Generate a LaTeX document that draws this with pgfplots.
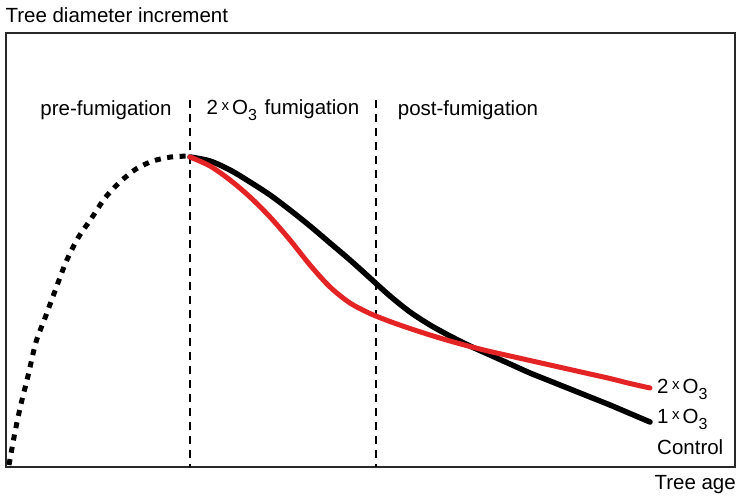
\documentclass[border=0pt]{standalone}
\usepackage{fontspec}
\setmainfont{Liberation Sans}
\usepackage{pgfplots}
\pgfplotsset{compat=1.18}
\definecolor{myred}{RGB}{228,36,36}
\definecolor{boxgray}{RGB}{40,40,40}
\newcommand{\tx}{\hspace{3.5pt}\raisebox{3.5pt}{\fontsize{15}{16}\selectfont x}\hspace{3pt}}
\newcommand{\sub}[1]{\raisebox{-6pt}{\fontsize{16}{18}\selectfont #1}}
\begin{document}
\begin{tikzpicture}[font=\fontsize{20.5}{24}\selectfont]
\path[use as bounding box] (0pt,0pt) rectangle (738pt,496pt);
\begin{axis}[
  at={(6pt,29pt)}, anchor=south west,
  scale only axis, width=729pt, height=434pt,
  xmin=6, xmax=735, ymin=29, ymax=463,
  xtick=\empty, ytick=\empty,
  axis line style={line width=2pt, boxgray},
  clip=false,
]
% vertical phase separators
\addplot[black, line width=2pt, dash pattern=on 8pt off 6pt] coordinates {(190,396) (190,29)};
\addplot[black, line width=2pt, dash pattern=on 8pt off 6pt] coordinates {(376,396) (376,29)};
% control (1 x O3)
\addplot[black, line width=5.5pt, smooth, line cap=round] coordinates {
(190,339) (210,335) (230,326) (250,314) (270,301) (290,286) (310,270) (330,253)
(350,236) (370,218) (390,200) (410,184) (430,171) (450,160) (470,150) (490,141)
(510,132) (530,123) (550,115) (570,107) (590,99) (610,91) (630,82.5) (650,74)};
% 2 x O3
\addplot[myred, line width=5pt, smooth, line cap=round] coordinates {
(190,339) (210,330) (230,316) (250,299) (270,279) (290,256) (310,231) (330,209)
(350,193) (370,182.5) (390,174.5) (410,167.5) (430,161) (450,155) (470,149.5) (490,144.5)
(510,140) (530,135.5) (550,131) (570,126.5) (590,122) (610,117.5) (630,112.5) (650,108)};
% pre-fumigation (dashed)
\addplot[black, line width=5pt, smooth, dash pattern=on 6pt off 6.5pt] coordinates {
(9,31) (15,64) (21,92) (28,120) (36,154) (45,178) (55,205) (66,234) (78,258)
(91,277) (105,298) (120,314) (136,327) (153,335) (171,339) (190,340)};
% texts
\node at (axis cs:106,386) {pre-fumigation};
\node at (axis cs:283,386) {2\tx O\sub{3}\hspace{2pt} fumigation};
\node at (axis cs:468,386) {post-fumigation};
\node[anchor=west] at (axis cs:2,481) {Tree diameter increment};
\node[anchor=east, inner sep=0pt] at (axis cs:736,11) {Tree age};
\node[anchor=west, inner sep=0pt] at (axis cs:657,107) {2\tx O\sub{3}};
\node[anchor=west, inner sep=0pt] at (axis cs:657,77) {1\tx O\sub{3}};
\node[anchor=west, inner sep=0pt] at (axis cs:657,49) {Control};
\end{axis}
\end{tikzpicture}
\end{document}
